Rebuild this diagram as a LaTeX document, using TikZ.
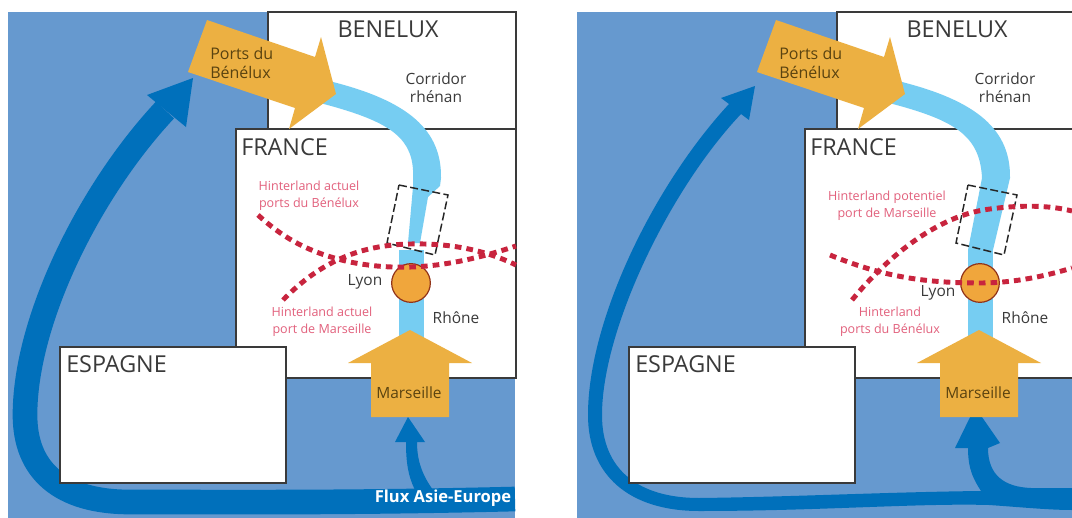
\documentclass[tikz,border=0pt]{standalone}
\usepackage{fontspec}
\setmainfont{Open Sans}
\definecolor{seablue}{HTML}{6699CF}
\definecolor{flowblue}{HTML}{0070BB}
\definecolor{riverblue}{HTML}{76CDF2}
\definecolor{portorange}{HTML}{ECB042}
\definecolor{lyonorange}{HTML}{F0A63C}
\definecolor{hintred}{HTML}{C8243E}
\definecolor{hinttext}{HTML}{E2607C}
\definecolor{inktext}{HTML}{3A3A3A}
\definecolor{porttext}{HTML}{5A4310}
\tikzset{
  country/.style={draw=inktext,line width=1.6pt,fill=white},
  countrylabel/.style={inner sep=0pt,text=inktext,font=\fontsize{17.5}{20}\selectfont},
  placelabel/.style={inner sep=0pt,text=inktext,align=center,font=\fontsize{11.6}{13.5}\selectfont},
  portlabel/.style={inner sep=0pt,text=porttext,align=left,font=\fontsize{12}{14.25}\selectfont},
  hintlabel/.style={inner sep=0pt,text=hinttext,align=center,font=\fontsize{9.4}{12.75}\selectfont},
  hintline/.style={draw=hintred,line width=3.7pt,dash pattern=on 5pt off 3.8pt},
  portarrow/.style={fill=portorange,draw=none},
  river/.style={fill=riverblue,draw=none},
  flow/.style={fill=flowblue,draw=none},
  framebox/.style={draw=black!85,line width=1.1pt,dash pattern=on 6pt off 2.5pt},
  lyondot/.style={circle,fill=lyonorange,draw=black!55!red!60!brown,line width=0.9pt,minimum size=29pt,inner sep=0pt}
}
% #1 name prefix, #2 right edge of the sea, #3 right edge of the countries, #4 corridor shape
\newcommand{\panelsea}[2]{%
  \fill[seablue] (8,12) rectangle (#2,518);
}
\newcommand{\panelmain}[3]{%
  \path[country] (268,12) rectangle (#2,129);
  \path[country] (236,129) rectangle (#2,378);
  \path[country] (60,347) rectangle (286,483);
  #3
  \fill[river] (399,250) rectangle (424,340);
  \fill[portarrow] (207,20) -- (315,57) -- (321,37) -- (336,94) -- (289,129) -- (295,108) -- (188,72) -- cycle;
  \fill[portarrow] (410,330) -- (472,363) -- (449,363) -- (449,417) -- (371,417) -- (371,363) -- (348,363) -- cycle;
  \node[countrylabel] (#1benelux) at (388,29) {BENELUX};
  \node[countrylabel,anchor=west] (#1france) at (241,147) {FRANCE};
  \node[countrylabel,anchor=west] (#1espagne) at (66,364) {ESPAGNE};
  \node[placelabel] (#1corridor) at (436,88) {Corridor\\rhénan};
  \node[portlabel,anchor=west] (#1ports) at (210,62.5) {Ports du\\Bénélux};
  \node[placelabel] (#1rhone) at (456,318) {Rhône};
  \node[placelabel,text=porttext] (#1marseille) at (409,393) {Marseille};
}
\begin{document}
\begin{tikzpicture}[x=0.75pt,y=-0.75pt]
\useasboundingbox (0,0) rectangle (1072,518);
\fill[white] (0,0) rectangle (1072,518);

% ---------- left panel ----------
\begin{scope}
  \panelsea{a}{515}
  \draw[flowblue,line width=18.5pt] (515,499) .. controls (350,503) and (240,502) .. (130,502) .. controls (60,502) and (25,470) .. (25,415) .. controls (25,320) and (90,190) .. (165,110);
  \fill[flow] (193,78) -- (147,95) -- (186,127) -- cycle;
  \fill[flow] (408,417) -- (425,442) -- (417,442) .. controls (417,462) and (423,476) .. (433,490) -- (415,490) .. controls (408,476) and (406,462) .. (406,442) -- (395,442) -- cycle;
  \panelmain{a}{516}{\fill[river] (325,80) .. controls (400,98) and (442,125) .. (441,178) -- (440,186) -- (428,197) -- (420,243) -- (408,243) -- (413,187) -- (413,170) .. controls (411,135) and (385,120) .. (320,103) -- cycle;}
  \draw[framebox] (399,185) -- (448,195) -- (435,255) -- (387,243) -- cycle;
  \node[lyondot] (alyon) at (411,283) {};
  \node[placelabel] (alyonlabel) at (365,282) {Lyon};
  \draw[hintline] (258,215) .. controls (280,235) and (305,252) .. (350,262) .. controls (400,272) and (450,268) .. (516,246);
  \draw[hintline] (283,300) .. controls (320,262) and (360,245) .. (410,244) .. controls (450,243) and (485,250) .. (516,265);
  \node[hintlabel] (ahinta) at (309,196) {Hinterland actuel\\ports du Bénélux};
  \node[hintlabel] (ahintb) at (322,322) {Hinterland actuel\\port de Marseille};
  \node[inner sep=0pt,text=white,font=\bfseries\fontsize{12.4}{14}\selectfont] (aflux) at (443,498) {Flux Asie-Europe};
\end{scope}

% ---------- right panel ----------
\begin{scope}[xshift=426.75pt]
  \panelsea{b}{503}
  \fill[flow] (503,488) -- (462,488) .. controls (435,487) and (419,475) .. (419,448) -- (431,443) -- (406,407) -- (386,448) -- (399,448) .. controls (399,470) and (405,480) .. (412,491) .. controls (320,492) and (220,497) .. (130,498) .. controls (70,498) and (33,470) .. (33,415) .. controls (33,330) and (100,190) .. (172,114) -- (180,120) -- (186,86) -- (152,98) -- (160,104) .. controls (85,185) and (19,320) .. (19,415) .. controls (19,475) and (60,511) .. (130,511) .. controls (250,511) and (350,503) .. (420,505) .. controls (450,507) and (480,510) .. (503,510) -- cycle;
  \panelmain{b}{506}{\fill[river] (325,80) .. controls (400,98) and (442,125) .. (441,178) -- (424,250) -- (399,250) -- (413,178) .. controls (411,135) and (385,120) .. (320,103) -- cycle;}
  \draw[framebox] (399,185) -- (448,195) -- (435,255) -- (387,243) -- cycle;
  \node[lyondot] (blyon) at (411,283) {};
  \node[placelabel] (blyonlabel) at (369,293) {Lyon};
  \draw[hintline] (261,255) .. controls (310,275) and (350,283) .. (411,283) .. controls (440,283) and (470,278) .. (503,268);
  \draw[hintline] (283,300) .. controls (320,255) and (370,215) .. (421,209) .. controls (450,205) and (480,205) .. (503,211);
  \node[hintlabel] (bhinta) at (318,206) {Hinterland potentiel\\port de Marseille};
  \node[hintlabel] (bhintb) at (321,322) {Hinterland\\ports du Bénélux};
\end{scope}
\end{tikzpicture}
\end{document}
